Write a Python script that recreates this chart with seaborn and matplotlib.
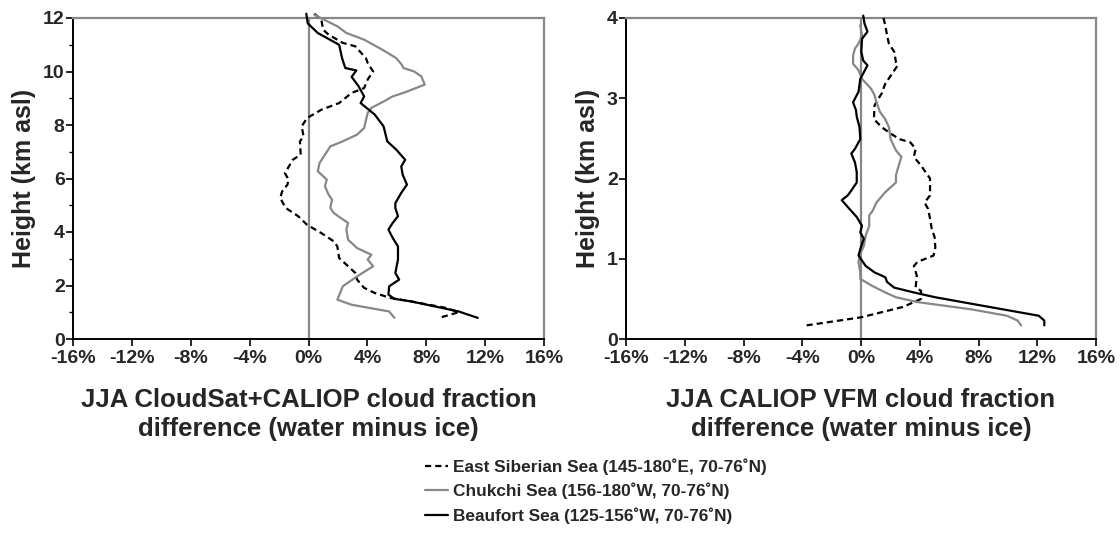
import matplotlib
matplotlib.use("Agg")
import matplotlib.pyplot as plt
import numpy as np
import pandas as pd
import seaborn as sns
from matplotlib.ticker import MultipleLocator, FuncFormatter

# Region names (legend labels)
REGION_ES = "East Siberian Sea (145-180\u02daE, 70-76\u02daN)"
REGION_CH = "Chukchi Sea (156-180\u02daW, 70-76\u02daN)"
REGION_BF = "Beaufort Sea (125-156\u02daW, 70-76\u02daN)"
regions = [REGION_ES, REGION_CH, REGION_BF]

# ---- CloudSat+CALIOP profiles (difference in %, height in km) ----
cc_es_height = [12.16, 11.94, 11.56, 11.38, 11.07, 10.94, 10.5, 10.32, 10.0, 9.7, 9.38, 9.2,
                8.82, 8.57, 8.26, 7.95, 7.58, 7.39, 6.89, 6.7, 6.2, 5.96, 5.77, 5.52, 5.27,
                4.9, 4.59, 4.27, 3.96, 3.65, 3.46, 3.03, 2.72, 2.47, 2.22, 1.91, 1.72, 1.53,
                1.41, 1.16, 1.0, 0.79]
cc_es_diff = [0.39, 0.87, 1.0, 1.36, 2.33, 3.18, 3.9, 4.02, 4.39, 4.02, 3.78, 2.93,
              2.08, 0.87, -0.1, -0.46, -0.34, -0.58, -0.53, -1.07, -1.6, -1.36, -1.43, -1.79, -1.92,
              -1.55, -0.7, -0.1, 0.87, 1.72, 1.96, 2.08, 2.69, 3.18, 3.3, 3.78, 4.5, 5.6,
              6.93, 9.36, 10.2, 8.87]

cc_ch_height = [12.12, 11.69, 11.44, 11.19, 10.82, 10.5, 10.26, 10.13, 10.0, 9.82, 9.51, 9.2,
                9.07, 8.88, 8.64, 8.45, 7.89, 7.64, 7.39, 7.2, 6.89, 6.58, 6.27, 5.96, 5.71,
                5.4, 5.21, 4.9, 4.71, 4.52, 4.34, 4.09, 3.71, 3.4, 3.15, 2.97, 2.72, 2.34,
                1.97, 1.47, 1.28, 1.03, 0.79]
cc_ch_diff = [0.39, 1.96, 2.57, 3.78, 5.0, 5.96, 6.33, 6.45, 7.18, 7.66, 7.9, 6.45,
              5.72, 5.11, 4.27, 4.02, 3.78, 3.3, 2.33, 1.48, 1.12, 0.75, 0.63, 1.24, 1.12,
              1.36, 1.6, 1.48, 1.72, 2.2, 2.69, 2.57, 2.69, 3.3, 4.27, 4.02, 4.39, 3.3,
              2.33, 1.96, 2.93, 5.48, 5.84]

cc_bf_height = [12.16, 11.8, 11.44, 11.0, 10.5, 10.13, 10.04, 9.8, 9.45, 9.07, 8.82, 8.39,
                7.95, 7.39, 7.08, 6.7, 6.45, 6.14, 5.77, 5.46, 5.08, 4.9, 4.59, 4.34, 4.09,
                3.78, 3.46, 2.97, 2.47, 2.22, 1.97, 1.66, 1.5, 1.41, 1.03, 0.79]
cc_bf_diff = [-0.15, -0.05, 0.63, 2.08, 2.28, 2.5, 3.25, 2.93, 3.4, 3.78, 3.54, 4.5,
              5.1, 5.35, 5.96, 6.57, 6.3, 6.4, 6.69, 6.3, 5.9, 5.9, 6.08, 5.72, 5.43,
              5.72, 6.08, 6.08, 5.9, 6.16, 5.48, 5.43, 5.84, 6.93, 10.2, 11.5]

# ---- CALIOP VFM profiles ----
vfm_es_height = [4.0, 3.91, 3.78, 3.68, 3.58, 3.45, 3.41, 3.28, 3.18, 3.06, 2.99, 2.91, 2.74,
                 2.64, 2.56, 2.49, 2.45, 2.37, 2.27, 2.16, 2.0, 1.79, 1.7, 1.62, 1.5, 1.37,
                 1.27, 1.14, 1.04, 0.96, 0.91, 0.79, 0.64, 0.6, 0.5, 0.4, 0.27, 0.17]
vfm_es_diff = [1.53, 1.65, 1.78, 1.9, 2.26, 2.38, 2.5, 2.02, 1.65, 1.41, 1.17, 0.92, 0.88,
               1.41, 2.02, 2.63, 3.36, 3.72, 3.6, 4.09, 4.7, 4.7, 4.33, 4.57, 4.7, 4.82,
               5.01, 5.06, 4.94, 3.84, 3.6, 3.8, 3.72, 4.09, 4.09, 2.87, 0.0, -3.7]

vfm_ch_height = [3.91, 3.78, 3.68, 3.62, 3.53, 3.43, 3.35, 3.24, 3.12, 3.04, 2.95, 2.83, 2.74,
                 2.64, 2.49, 2.35, 2.27, 2.12, 2.04, 1.95, 1.83, 1.7, 1.6, 1.54, 1.41, 1.29,
                 1.16, 1.06, 0.96, 0.83, 0.75, 0.67, 0.58, 0.52, 0.46, 0.37, 0.29, 0.23, 0.17]
vfm_ch_diff = [-0.05, 0.07, -0.17, -0.41, -0.54, -0.54, -0.17, 0.07, 0.68, 0.92, 1.05, 1.29, 1.65,
               1.9, 2.02, 2.38, 2.75, 2.5, 2.38, 2.38, 1.65, 1.05, 0.8, 0.56, 0.56, 0.32,
               0.19, -0.05, -0.17, -0.05, -0.05, 0.68, 1.65, 2.38, 3.84, 7.5, 9.93, 10.66, 10.9]

vfm_bf_height = [4.03, 3.93, 3.83, 3.74, 3.58, 3.47, 3.41, 3.24, 3.08, 2.95, 2.85, 2.77, 2.64,
                 2.49, 2.37, 2.31, 2.2, 2.08, 1.95, 1.85, 1.79, 1.73, 1.62, 1.52, 1.41, 1.33,
                 1.25, 1.12, 1.04, 0.91, 0.83, 0.77, 0.71, 0.64, 0.58, 0.52, 0.44, 0.29, 0.23, 0.17]
vfm_bf_diff = [0.15, 0.24, 0.44, 0.07, 0.02, 0.15, 0.44, -0.05, -0.17, -0.54, -0.34, -0.29, -0.1,
               -0.05, -0.41, -0.66, -0.41, -0.29, -0.29, -0.66, -0.9, -1.31, -0.78, -0.29, 0.07, -0.05,
               0.19, -0.05, -0.17, 0.32, 0.92, 1.65, 1.78, 2.26, 3.6, 5.06, 7.5, 12.1, 12.48, 12.48]

x_ticks = [-16, -12, -8, -4, 0, 4, 8, 12, 16]


def profile_frame(series):
    parts = []
    for name, diff, height in series:
        parts.append(pd.DataFrame({"diff": diff, "height": height, "region": name,
                                   "order": np.arange(len(diff))}))
    return pd.concat(parts, ignore_index=True)


df_cc = profile_frame([(REGION_ES, cc_es_diff, cc_es_height),
                       (REGION_CH, cc_ch_diff, cc_ch_height),
                       (REGION_BF, cc_bf_diff, cc_bf_height)])
df_vfm = profile_frame([(REGION_ES, vfm_es_diff, vfm_es_height),
                        (REGION_CH, vfm_ch_diff, vfm_ch_height),
                        (REGION_BF, vfm_bf_diff, vfm_bf_height)])

sns.set_theme(style="white")
plt.rcParams["font.family"] = ["Liberation Sans", "DejaVu Sans"]
plt.rcParams["font.weight"] = "bold"

GRAY = "#878787"
palette = {REGION_ES: "black", REGION_CH: GRAY, REGION_BF: "black"}
dashes = {REGION_ES: (2.8, 1.8), REGION_CH: "", REGION_BF: ""}

fig = plt.figure(figsize=(11.2, 5.33), dpi=100)
ax1 = fig.add_axes([73 / 1120, 1 - 339 / 533, 471 / 1120, 321 / 533])
ax2 = fig.add_axes([626 / 1120, 1 - 339 / 533, 470 / 1120, 321 / 533])

panels = [
    (ax1, df_cc, 12, 2, "JJA CloudSat+CALIOP cloud fraction\ndifference (water minus ice)", True),
    (ax2, df_vfm, 4, 1, "JJA CALIOP VFM cloud fraction\ndifference (water minus ice)", False),
]

for ax, df, ymax, ystep, xlabel, minor in panels:
    ax.axvline(0, color=GRAY, lw=1.6, zorder=1)
    sns.lineplot(data=df, x="diff", y="height", hue="region", style="region",
                 hue_order=regions, style_order=regions, palette=palette, dashes=dashes,
                 units="region", estimator=None, sort=False, lw=1.6, ax=ax,
                 legend=(ax is ax1), zorder=3)
    for line in ax.get_lines():
        line.set_clip_on(False)
    ax.set_xlim(-16, 16)
    ax.set_ylim(0, ymax)
    ax.set_xticks(x_ticks)
    ax.xaxis.set_major_formatter(FuncFormatter(lambda v, p: f"{v:.0f}%"))
    ax.yaxis.set_major_locator(MultipleLocator(ystep))
    if minor:
        ax.yaxis.set_minor_locator(MultipleLocator(1))
    ax.tick_params(axis="both", which="major", direction="out", length=5, width=1.2,
                   color="black", labelsize=14, pad=1)
    ax.tick_params(axis="x", which="major", pad=3)
    ax.tick_params(axis="y", which="minor", direction="out", length=3, width=1.0,
                   color="black", left=True)
    ax.tick_params(axis="x", bottom=True)
    ax.tick_params(axis="y", left=True)
    for lab in ax.get_xticklabels() + ax.get_yticklabels():
        lab.set_fontweight("bold")
    for side in ("top", "right"):
        ax.spines[side].set_color(GRAY)
        ax.spines[side].set_linewidth(1.6)
    for side in ("left", "bottom"):
        ax.spines[side].set_color("black")
        ax.spines[side].set_linewidth(1.4)
    ax.set_ylabel("Height (km asl)", fontsize=18, fontweight="bold", labelpad=5)
    ax.set_xlabel(xlabel, fontsize=18.5, fontweight="bold", labelpad=15, linespacing=1.25)

handles, labels = ax1.get_legend_handles_labels()
ax1.get_legend().remove()
fig.legend(handles, labels, loc="upper left", bbox_to_anchor=(425 / 1120, 1 - 458 / 533),
           frameon=False, prop={"weight": "bold", "size": 12.4},
           handlelength=1.35, handletextpad=0.25, labelspacing=0.47,
           borderpad=0, borderaxespad=0)

fig.savefig("out.png", dpi=100, facecolor="white")
